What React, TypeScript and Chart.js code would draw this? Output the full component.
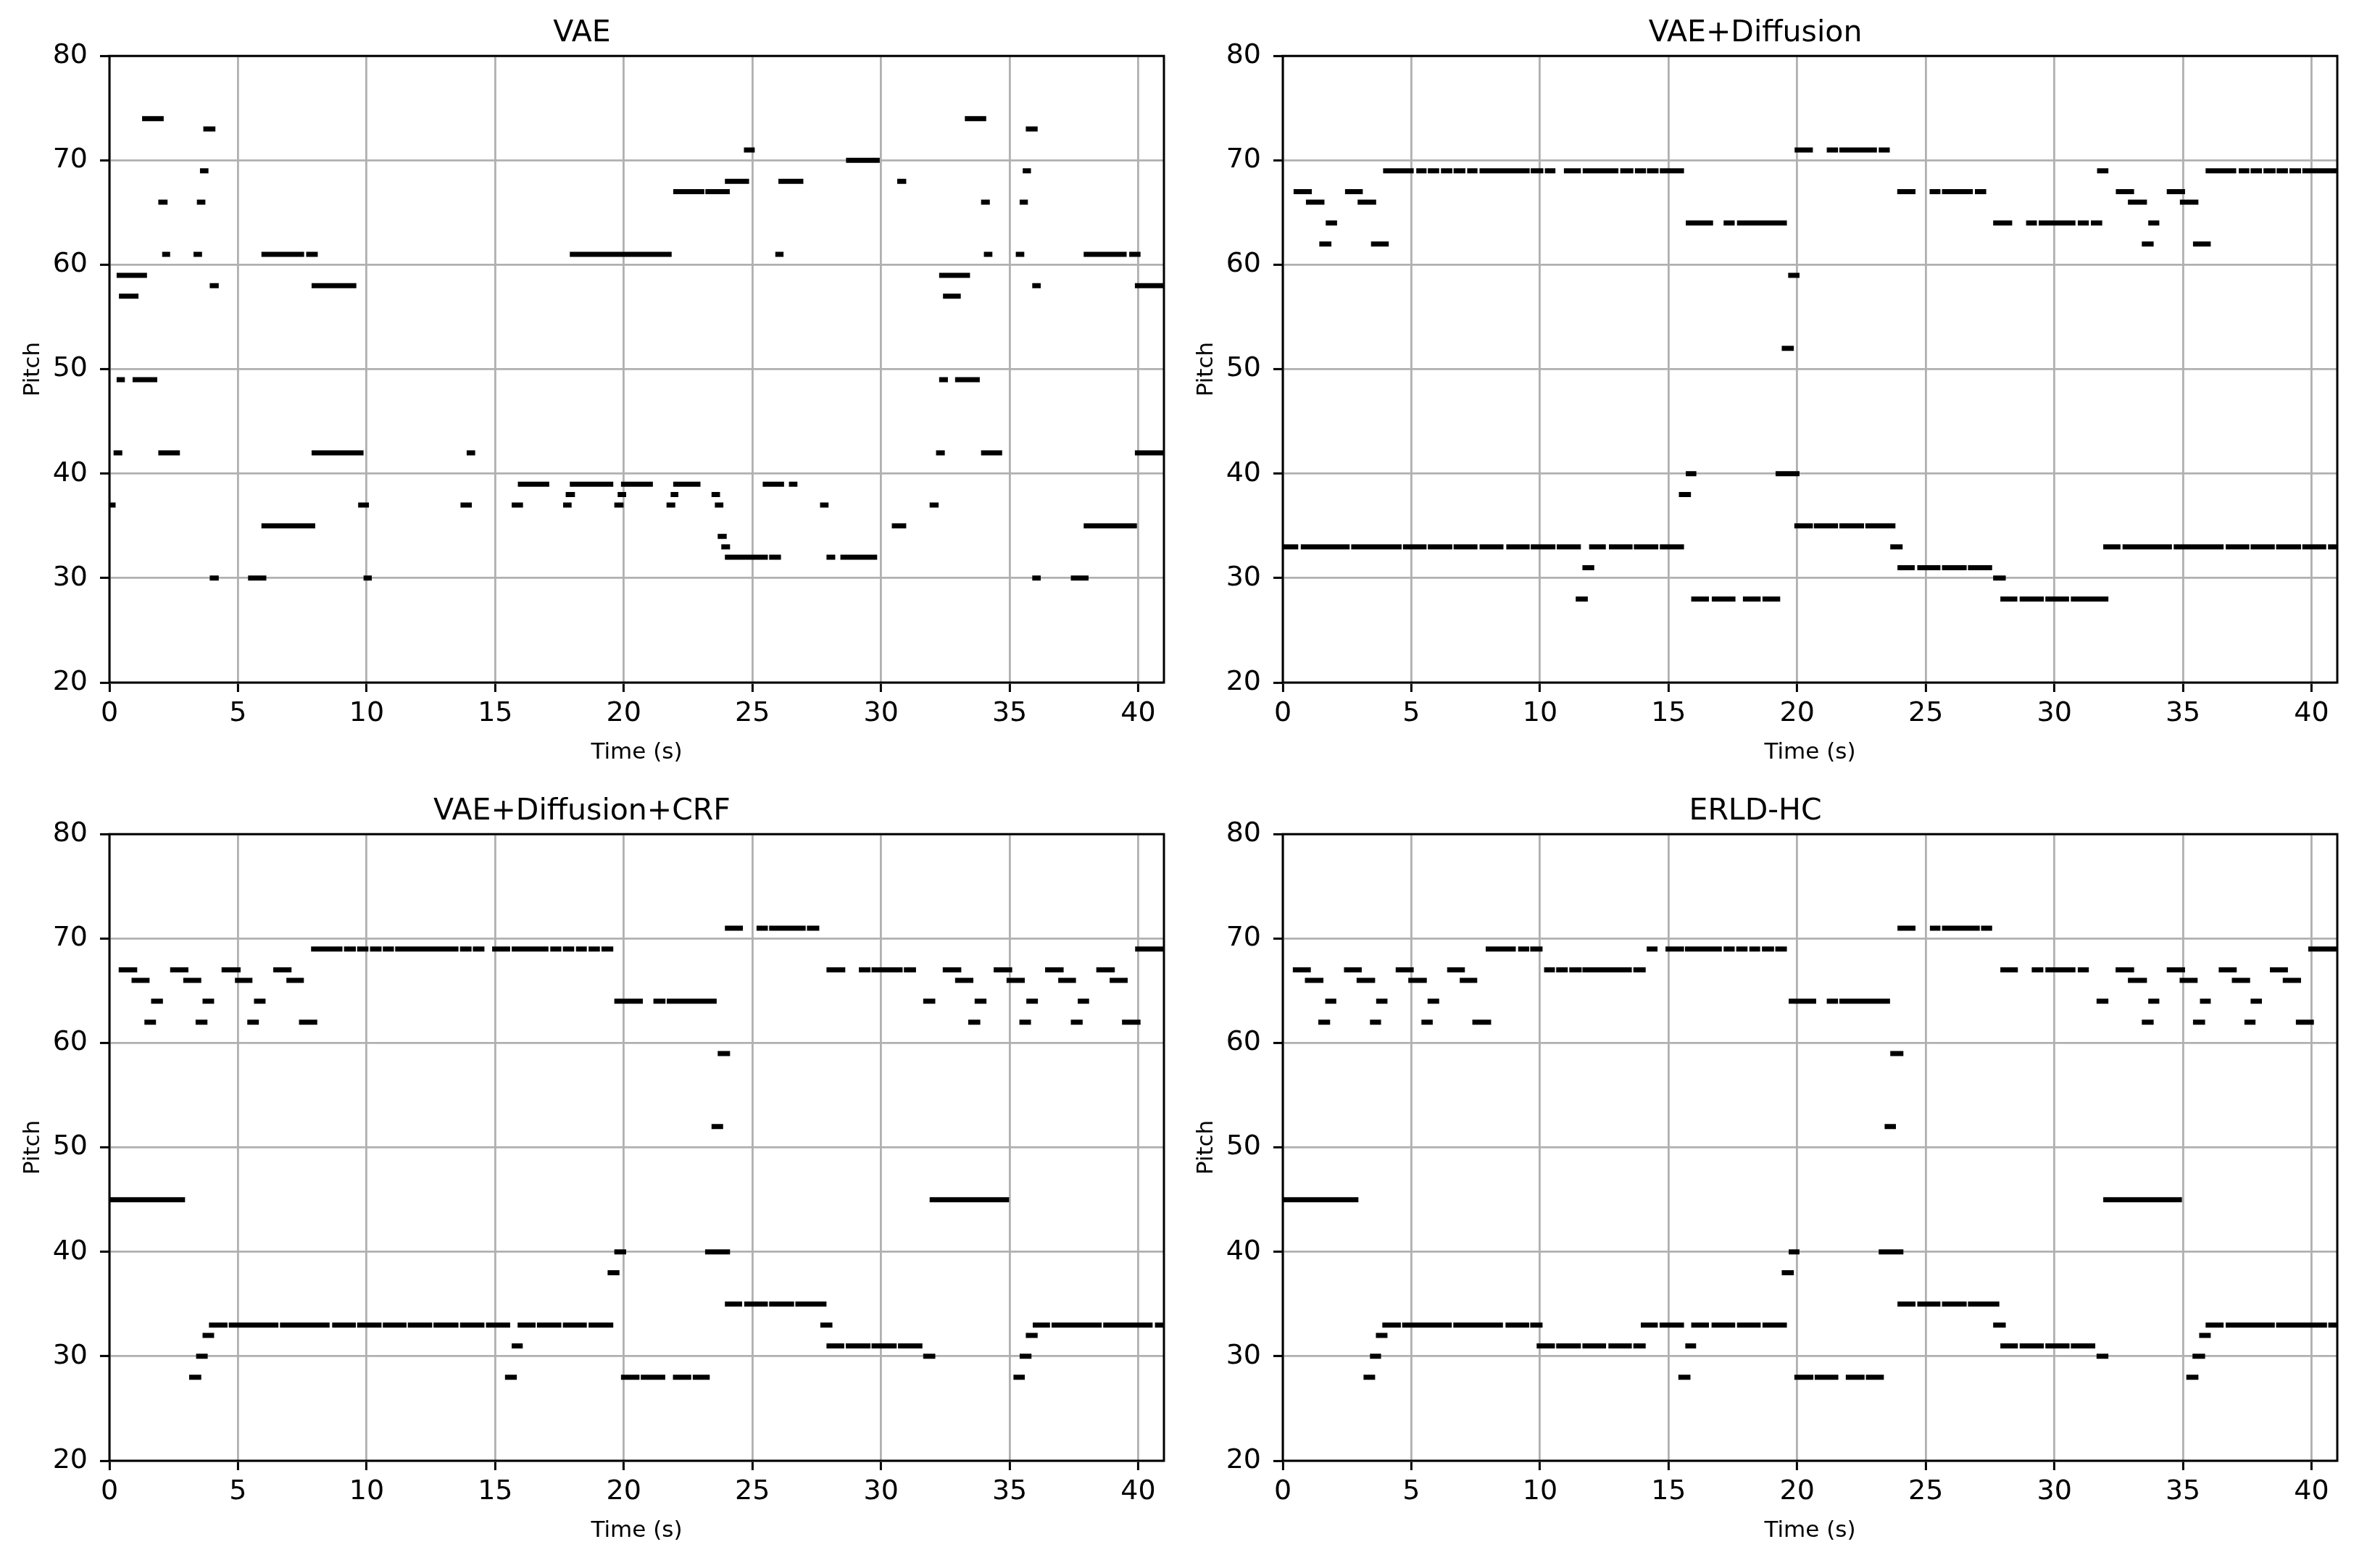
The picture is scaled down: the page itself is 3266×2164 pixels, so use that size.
import React, { useEffect, useRef } from "react";
import { Chart, registerables } from "chart.js";
Chart.register(...registerables);

const FONT = "'DejaVu Sans', 'Liberation Sans', sans-serif";

const titles = ["VAE", "VAE+Diffusion", "VAE+Diffusion+CRF", "ERLD-HC"];
const xTicks = [0, 5, 10, 15, 20, 25, 30, 35, 40];
const yTicks = [20, 30, 40, 50, 60, 70, 80];
const xLimits = [0, 41];
const yLimits = [20, 80];
const xLabel = "Time (s)";
const yLabel = "Pitch";

// notes: [onset (s), offset (s), pitch]
const vaeNotes = [
  [1.27, 2.11, 74], [33.26, 34.09, 74],
  [3.65, 4.12, 73], [35.63, 36.09, 73],
  [24.67, 25.09, 71],
  [28.64, 29.95, 70],
  [3.52, 3.85, 69], [35.51, 35.83, 69],
  [23.93, 24.87, 68], [26.01, 26.98, 68], [30.63, 30.98, 68],
  [21.92, 23.13, 67], [23.17, 24.12, 67],
  [1.9, 2.26, 66], [3.4, 3.73, 66], [33.89, 34.23, 66], [35.39, 35.71, 66],
  [2.05, 2.36, 61], [3.27, 3.6, 61], [5.91, 7.57, 61], [7.65, 8.1, 61], [17.9, 21.86, 61],
  [25.89, 26.21, 61], [34.0, 34.33, 61], [35.24, 35.57, 61], [37.88, 39.55, 61], [39.65, 40.09, 61],
  [0.28, 1.46, 59], [32.26, 33.46, 59],
  [3.9, 4.25, 58], [7.86, 9.6, 58], [35.88, 36.21, 58], [39.87, 40.98, 58],
  [0.37, 1.13, 57], [32.41, 33.1, 57],
  [0.28, 0.6, 49], [0.9, 1.86, 49], [32.26, 32.6, 49], [32.88, 33.84, 49],
  [0.16, 0.5, 42], [1.9, 2.74, 42], [7.86, 9.88, 42], [13.89, 14.22, 42], [32.14, 32.48, 42],
  [33.89, 34.71, 42], [39.87, 40.98, 42],
  [15.88, 17.1, 39], [17.9, 19.59, 39], [19.89, 21.13, 39], [21.92, 22.98, 39], [25.4, 26.23, 39],
  [26.42, 26.75, 39],
  [17.74, 18.1, 38], [19.76, 20.09, 38], [21.82, 22.12, 38], [23.41, 23.74, 38],
  [0.0, 0.24, 37], [9.67, 10.09, 37], [13.65, 14.09, 37], [15.64, 16.08, 37], [17.64, 17.97, 37],
  [19.63, 19.99, 37], [21.66, 22.0, 37], [23.54, 23.87, 37], [27.63, 27.96, 37], [31.89, 32.24, 37],
  [5.91, 8.0, 35], [30.42, 30.98, 35], [37.88, 39.95, 35],
  [23.65, 24.0, 34],
  [23.79, 24.13, 33],
  [23.93, 25.6, 32], [25.65, 26.11, 32], [27.88, 28.22, 32], [28.42, 29.85, 32],
  [3.9, 4.25, 30], [5.39, 6.1, 30], [9.88, 10.2, 30], [35.88, 36.21, 30], [37.38, 38.07, 30],
];

const vaeDiffusionNotes = [
  [19.9, 20.61, 71], [21.15, 21.59, 71], [21.64, 23.1, 71], [23.17, 23.6, 71],
  [3.9, 5.09, 69], [5.19, 5.59, 69], [5.64, 6.08, 69], [6.15, 6.59, 69], [6.64, 7.1, 69],
  [7.17, 7.57, 69], [7.65, 9.6, 69], [9.64, 10.13, 69], [10.19, 10.6, 69], [10.93, 11.59, 69],
  [11.66, 13.05, 69], [13.12, 13.63, 69], [13.69, 14.12, 69], [14.16, 14.61, 69], [14.66, 15.6, 69],
  [31.66, 32.1, 69], [35.88, 37.07, 69], [37.17, 37.58, 69], [37.63, 38.07, 69], [38.13, 38.6, 69],
  [38.64, 39.08, 69], [39.14, 39.59, 69], [39.64, 40.98, 69],
  [0.42, 1.13, 67], [2.42, 3.11, 67], [23.89, 24.6, 67], [25.15, 25.57, 67], [25.63, 26.83, 67],
  [26.91, 27.35, 67], [32.39, 33.1, 67], [34.37, 35.08, 67],
  [0.9, 1.62, 66], [2.91, 3.63, 66], [32.86, 33.6, 66], [34.88, 35.6, 66],
  [1.67, 2.11, 64], [15.67, 16.73, 64], [17.14, 17.57, 64], [17.66, 19.6, 64], [27.62, 28.36, 64],
  [28.9, 29.32, 64], [29.39, 30.82, 64], [30.91, 31.34, 64], [31.42, 31.86, 64], [33.65, 34.08, 64],
  [1.42, 1.89, 62], [3.43, 4.12, 62], [33.4, 33.86, 62], [35.39, 36.08, 62],
  [19.65, 20.09, 59],
  [19.4, 19.87, 52],
  [15.67, 16.08, 40], [19.16, 20.09, 40],
  [15.4, 15.87, 38],
  [19.89, 20.61, 35], [20.65, 21.59, 35], [21.64, 22.6, 35], [22.65, 23.82, 35],
  [0.0, 0.6, 33], [0.7, 2.6, 33], [2.66, 4.62, 33], [4.67, 5.59, 33], [5.64, 6.59, 33],
  [6.64, 7.57, 33], [7.65, 8.58, 33], [8.69, 9.6, 33], [9.64, 10.6, 33], [10.65, 11.59, 33],
  [11.91, 12.56, 33], [12.68, 13.6, 33], [13.65, 14.6, 33], [14.66, 15.6, 33], [23.62, 24.1, 33],
  [31.9, 32.57, 33], [32.65, 34.57, 33], [34.64, 36.58, 33], [36.66, 37.58, 33], [37.63, 38.57, 33],
  [38.62, 39.59, 33], [39.64, 40.57, 33], [40.64, 40.98, 33],
  [11.65, 12.11, 31], [23.9, 24.57, 31], [24.67, 25.57, 31], [25.63, 26.59, 31], [26.64, 27.58, 31],
  [27.62, 28.11, 30],
  [11.39, 11.86, 28], [15.88, 16.57, 28], [16.68, 17.6, 28], [17.89, 18.58, 28], [18.65, 19.34, 28],
  [27.9, 28.56, 28], [28.65, 29.59, 28], [29.65, 30.57, 28], [30.64, 32.1, 28],
];

const vaeDiffusionCrfNotes = [
  [23.93, 24.63, 71], [25.16, 25.6, 71], [25.65, 27.07, 71], [27.12, 27.6, 71],
  [7.84, 9.06, 69], [9.12, 9.58, 69], [9.63, 10.07, 69], [10.13, 10.58, 69], [10.63, 11.06, 69],
  [11.11, 13.57, 69], [13.63, 14.08, 69], [14.13, 14.58, 69], [14.88, 15.58, 69], [15.64, 17.07, 69],
  [17.14, 17.57, 69], [17.63, 18.07, 69], [18.14, 18.56, 69], [18.63, 19.07, 69], [19.13, 19.59, 69],
  [39.88, 40.99, 69],
  [0.36, 1.08, 67], [2.36, 3.07, 67], [4.36, 5.1, 67], [6.37, 7.08, 67], [27.88, 28.61, 67],
  [29.14, 29.59, 67], [29.63, 30.84, 67], [30.89, 31.36, 67], [32.4, 33.12, 67], [34.38, 35.1, 67],
  [36.38, 37.1, 67], [38.37, 39.09, 67],
  [0.86, 1.56, 66], [2.87, 3.57, 66], [4.88, 5.56, 66], [6.88, 7.56, 66], [32.88, 33.59, 66],
  [34.88, 35.59, 66], [36.89, 37.58, 66], [38.89, 39.59, 66],
  [1.62, 2.08, 64], [3.62, 4.07, 64], [5.62, 6.07, 64], [19.63, 20.74, 64], [21.15, 21.62, 64],
  [21.67, 23.61, 64], [31.64, 32.11, 64], [33.64, 34.1, 64], [35.65, 36.1, 64], [37.65, 38.09, 64],
  [1.36, 1.81, 62], [3.35, 3.81, 62], [5.36, 5.81, 62], [7.37, 8.08, 62], [33.39, 33.86, 62],
  [35.38, 35.83, 62], [37.38, 37.84, 62], [39.37, 40.09, 62],
  [23.65, 24.13, 59],
  [23.41, 23.86, 52],
  [0.0, 2.94, 45], [31.89, 34.98, 45],
  [19.63, 20.09, 40], [23.16, 24.13, 40],
  [19.37, 19.83, 38],
  [23.93, 24.6, 35], [24.68, 25.6, 35], [25.65, 26.62, 35], [26.67, 27.88, 35],
  [3.87, 4.59, 33], [4.64, 6.57, 33], [6.63, 8.56, 33], [8.66, 9.58, 33], [9.63, 10.58, 33],
  [10.63, 11.55, 33], [11.6, 12.55, 33], [12.6, 13.57, 33], [13.63, 14.58, 33], [14.64, 15.58, 33],
  [15.87, 16.57, 33], [16.62, 17.57, 33], [17.63, 18.56, 33], [18.63, 19.59, 33], [27.64, 28.11, 33],
  [35.9, 36.57, 33], [36.63, 38.58, 33], [38.64, 40.56, 33], [40.65, 40.99, 33],
  [3.62, 4.07, 32], [35.63, 36.09, 32],
  [15.64, 16.07, 31], [27.88, 28.57, 31], [28.63, 29.59, 31], [29.63, 30.61, 31], [30.66, 31.61, 31],
  [3.37, 3.82, 30], [31.64, 32.11, 30], [35.39, 35.85, 30],
  [3.1, 3.57, 28], [15.38, 15.84, 28], [19.89, 20.61, 28], [20.66, 21.61, 28], [21.91, 22.62, 28],
  [22.68, 23.34, 28], [35.15, 35.59, 28],
];

const erldHcNotes = [
  [23.9, 24.6, 71], [25.16, 25.57, 71], [25.63, 27.1, 71], [27.15, 27.58, 71],
  [7.89, 9.06, 69], [9.15, 9.58, 69], [9.62, 10.1, 69], [14.15, 14.57, 69], [14.88, 15.6, 69],
  [15.64, 17.07, 69], [17.14, 17.57, 69], [17.63, 18.07, 69], [18.14, 18.56, 69], [18.63, 19.1, 69],
  [19.15, 19.6, 69], [39.87, 40.98, 69],
  [0.39, 1.09, 67], [2.38, 3.07, 67], [4.39, 5.09, 67], [6.39, 7.08, 67], [10.16, 10.58, 67],
  [10.63, 11.08, 67], [11.14, 11.62, 67], [11.65, 13.57, 67], [13.63, 14.11, 67], [27.9, 28.58, 67],
  [29.12, 29.57, 67], [29.65, 30.82, 67], [30.91, 31.34, 67], [32.38, 33.1, 67], [34.37, 35.08, 67],
  [36.39, 37.09, 67], [38.38, 39.08, 67],
  [0.86, 1.58, 66], [2.87, 3.59, 66], [4.88, 5.6, 66], [6.88, 7.56, 66], [32.86, 33.6, 66],
  [34.87, 35.57, 66], [36.9, 37.61, 66], [38.88, 39.59, 66],
  [1.65, 2.08, 64], [3.63, 4.07, 64], [5.63, 6.08, 64], [19.67, 20.74, 64], [21.15, 21.59, 64],
  [21.64, 23.61, 64], [31.64, 32.1, 64], [33.65, 34.08, 64], [35.66, 36.08, 64], [37.63, 38.07, 64],
  [1.38, 1.84, 62], [3.39, 3.82, 62], [5.39, 5.83, 62], [7.37, 8.1, 62], [33.4, 33.86, 62],
  [35.39, 35.86, 62], [37.39, 37.82, 62], [39.39, 40.09, 62],
  [23.62, 24.13, 59],
  [23.4, 23.84, 52],
  [0.0, 2.94, 45], [31.9, 34.96, 45],
  [19.67, 20.09, 40], [23.17, 24.13, 40],
  [19.4, 19.87, 38],
  [23.9, 24.6, 35], [24.67, 25.57, 35], [25.63, 26.59, 35], [26.64, 27.86, 35],
  [3.87, 4.59, 33], [4.64, 6.57, 33], [6.63, 8.56, 33], [8.66, 9.58, 33], [9.62, 10.1, 33],
  [13.92, 14.58, 33], [14.65, 15.6, 33], [15.88, 16.57, 33], [16.67, 17.59, 33], [17.66, 18.58, 33],
  [18.65, 19.6, 33], [27.62, 28.11, 33], [35.88, 36.58, 33], [36.66, 38.57, 33], [38.62, 40.6, 33],
  [40.65, 40.98, 33],
  [3.62, 4.07, 32], [35.63, 36.08, 32],
  [9.87, 10.58, 31], [10.63, 11.59, 31], [11.65, 12.57, 31], [12.66, 13.57, 31], [13.63, 14.11, 31],
  [15.65, 16.07, 31], [27.9, 28.58, 31], [28.65, 29.59, 31], [29.65, 30.59, 31], [30.64, 31.59, 31],
  [3.39, 3.82, 30], [31.64, 32.1, 30], [35.37, 35.86, 30],
  [3.14, 3.59, 28], [15.38, 15.85, 28], [19.89, 20.63, 28], [20.68, 21.6, 28], [21.89, 22.62, 28],
  [22.67, 23.37, 28], [35.13, 35.6, 28],
];

const panelNotes = [vaeNotes, vaeDiffusionNotes, vaeDiffusionCrfNotes, erldHcNotes];

const CANVAS_W = 1619;
const CANVAS_H = 1074;
const panelPos = [
  [0, 0],
  [1619, 0],
  [0, 1074],
  [1619, 1074],
];

const framePlugin = {
  id: "frame",
  afterDraw(chart: any) {
    const { ctx, chartArea } = chart;
    const { left, top, right, bottom } = chartArea;
    ctx.save();
    ctx.strokeStyle = "#000";
    ctx.lineWidth = 3;
    ctx.strokeRect(left, top, right - left, bottom - top);
    ctx.restore();
  },
};

function Panel({ title, notes, left, top }: any) {
  const ref = useRef<HTMLCanvasElement | null>(null);
  useEffect(() => {
    const pts: any[] = [];
    for (const [s, e, p] of notes) {
      pts.push({ x: s, y: p }, { x: e, y: p }, { x: e, y: null });
    }
    const chart = new Chart(ref.current as HTMLCanvasElement, {
      type: "scatter",
      data: {
        datasets: [
          {
            data: pts,
            showLine: true,
            borderColor: "#000",
            backgroundColor: "#000",
            borderWidth: 7,
            borderCapStyle: "butt",
            pointRadius: 0,
            pointHoverRadius: 0,
            spanGaps: false,
          } as any,
        ],
      },
      options: {
        animation: false,
        responsive: false,
        events: [],
        layout: { padding: { left: 0, right: 13, top: 0, bottom: 0 } },
        plugins: {
          legend: { display: false },
          tooltip: { enabled: false },
          title: {
            display: true,
            text: title,
            color: "#000",
            font: { family: FONT, size: 41, weight: "normal" as any, lineHeight: 1.2 },
            padding: { top: 22, bottom: 6 },
          },
        },
        scales: {
          x: {
            type: "linear",
            position: "bottom",
            min: xLimits[0],
            max: xLimits[1],
            afterBuildTicks: (s: any) => {
              s.ticks = xTicks.map((v) => ({ value: v }));
            },
            afterFit: (s: any) => {
              s.height = 132;
            },
            ticks: {
              color: "#000",
              font: { family: FONT, size: 38 },
              padding: 7,
              maxRotation: 0,
              autoSkip: false,
            },
            grid: {
              color: "#b0b0b0",
              lineWidth: 2.8,
              drawTicks: true,
              tickLength: 13,
              tickColor: "#000",
              tickWidth: 3,
            },
            border: { display: false },
            title: {
              display: true,
              text: xLabel,
              color: "#000",
              font: { family: FONT, size: 31, lineHeight: 1.2 },
              padding: { top: 0, bottom: 16 },
            },
          },
          y: {
            type: "linear",
            position: "left",
            min: yLimits[0],
            max: yLimits[1],
            afterBuildTicks: (s: any) => {
              s.ticks = yTicks.map((v) => ({ value: v }));
            },
            afterFit: (s: any) => {
              s.width = 151;
            },
            ticks: {
              color: "#000",
              font: { family: FONT, size: 38 },
              padding: 17,
              autoSkip: false,
            },
            grid: {
              color: "#b0b0b0",
              lineWidth: 2.8,
              drawTicks: true,
              tickLength: 13,
              tickColor: "#000",
              tickWidth: 3,
            },
            border: { display: false },
            title: {
              display: true,
              text: yLabel,
              color: "#000",
              font: { family: FONT, size: 31, lineHeight: 1.2 },
              padding: { top: 27, bottom: 0 },
            },
          },
        },
      },
      plugins: [framePlugin],
    } as any);
    return () => chart.destroy();
  }, [title, notes]);
  return (
    <canvas
      ref={ref}
      width={CANVAS_W}
      height={CANVAS_H}
      style={{ position: "absolute", left, top, width: CANVAS_W, height: CANVAS_H }}
    />
  );
}

export default function App() {
  return (
    <div
      style={{
        position: "absolute",
        left: 0,
        top: 0,
        width: 3266,
        height: 2164,
        background: "#fff",
        overflow: "hidden",
      }}
    >
      {titles.map((t, i) => (
        <Panel key={t} title={t} notes={panelNotes[i]} left={panelPos[i][0]} top={panelPos[i][1]} />
      ))}
    </div>
  );
}
